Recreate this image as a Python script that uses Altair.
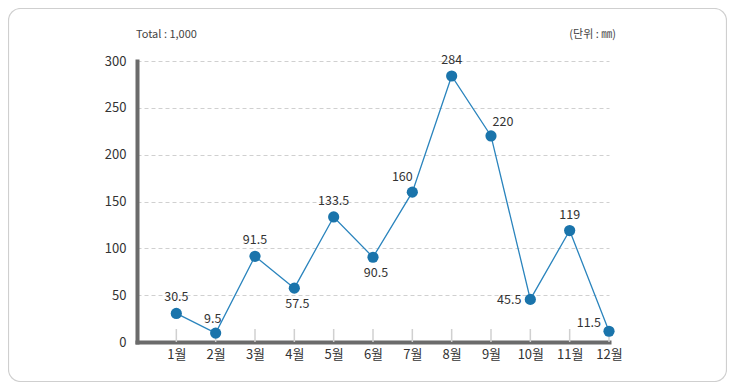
import altair as alt
import pandas as pd

# ---- data ----
months = [1, 2, 3, 4, 5, 6, 7, 8, 9, 10, 11, 12]
month_labels = ["1월", "2월", "3월", "4월", "5월", "6월", "7월", "8월", "9월", "10월", "11월", "12월"]
rain = [30.5, 9.5, 91.5, 57.5, 133.5, 90.5, 160, 284, 220, 45.5, 119, 11.5]
rain_labels = ["30.5", "9.5", "91.5", "57.5", "133.5", "90.5", "160", "284", "220", "45.5", "119", "11.5"]
y_ticks = [0, 50, 100, 150, 200, 250, 300]
total_text = "Total : 1,000"
unit_text = "(단위 : ㎜)"

df = pd.DataFrame({"month": months, "rain": rain, "label": rain_labels})

W, H = 472, 281
FONT = "Noto Sans CJK KR"
BLUE = "#1a74ab"

label_expr = "[" + ",".join("'" + s + "'" for s in month_labels) + "][datum.value - 1]"

x_enc = alt.X(
    "month:Q",
    scale=alt.Scale(domain=[0, 12], nice=False, zero=True),
    axis=alt.Axis(
        values=months, labelExpr=label_expr, title=None, ticks=False, grid=False,
        domainColor="#6b6b6b", domainWidth=4, domainCap="square",
        labelFlush=False, labelOverlap=False,
        labelFont=FONT, labelFontSize=13, labelColor="#333333", labelPadding=6,
    ),
)
y_enc = alt.Y(
    "rain:Q",
    scale=alt.Scale(domain=[0, 300], nice=False, zero=True),
    axis=alt.Axis(
        values=y_ticks, title=None, ticks=False, grid=True,
        gridColor="#d0d0d0", gridDash=[4, 3], gridWidth=1,
        domainColor="#6b6b6b", domainWidth=4, domainCap="square",
        labelFlush=False, labelOverlap=False,
        labelFont=FONT, labelFontSize=13, labelColor="#333333", labelPadding=11,
    ),
)

base = alt.Chart(df)

border = alt.Chart(pd.DataFrame({"a": [0]})).mark_rect(
    fill="white", fillOpacity=0, stroke="#cfcfcf", strokeWidth=1.2, cornerRadius=12
).encode(
    x=alt.value(-128.5), x2=alt.value(589.5), y=alt.value(-52.5), y2=alt.value(320.5)
)

ticks = base.mark_rule(color="#d0d0d0", strokeWidth=1.5).encode(
    x=x_enc, y=alt.value(H - 13), y2=alt.value(H)
)

line = base.mark_line(color="#2a84bd", strokeWidth=1.3).encode(x=x_enc, y=y_enc)
points = base.mark_circle(size=125, color=BLUE, opacity=1).encode(x=x_enc, y=y_enc)


def labels(ms, dx, dy, align="center"):
    return base.transform_filter(
        alt.FieldOneOfPredicate(field="month", oneOf=ms)
    ).mark_text(
        font=FONT, fontSize=12.5, color="#333333", dx=dx, dy=dy, align=align, baseline="middle"
    ).encode(x=x_enc, y=y_enc, text="label:N")


lab_above = labels([1, 3, 5, 8, 11], 0, -16)
lab_above2 = labels([2], -3, -14)
lab_below = labels([4, 6], 3, 16)
lab_al = labels([7], -10, -15)
lab_ar = labels([9], 12, -14)
lab_left = labels([10], -9, 1, "right")
lab_left2 = labels([12], -8, -8, "right")

top_left = alt.Chart(pd.DataFrame({"t": [total_text]})).mark_text(
    font=FONT, fontSize=11, color="#444444", align="left", baseline="middle"
).encode(x=alt.value(-1), y=alt.value(-26), text="t:N")

top_right = alt.Chart(pd.DataFrame({"t": [unit_text]})).mark_text(
    font=FONT, fontSize=11, color="#444444", align="right", baseline="middle"
).encode(x=alt.value(479), y=alt.value(-26), text="t:N")

chart = alt.layer(
    border, ticks, line, points,
    lab_above, lab_above2, lab_below, lab_al, lab_ar, lab_left, lab_left2,
    top_left, top_right,
).properties(
    width=W, height=H,
    autosize=alt.AutoSizeParams(type="none"),
    padding={"left": 129, "top": 53, "right": 118, "bottom": 40},
    background="white",
).configure_view(stroke=None)

chart.save("out.html", embed_options={"renderer": "svg", "actions": False})
